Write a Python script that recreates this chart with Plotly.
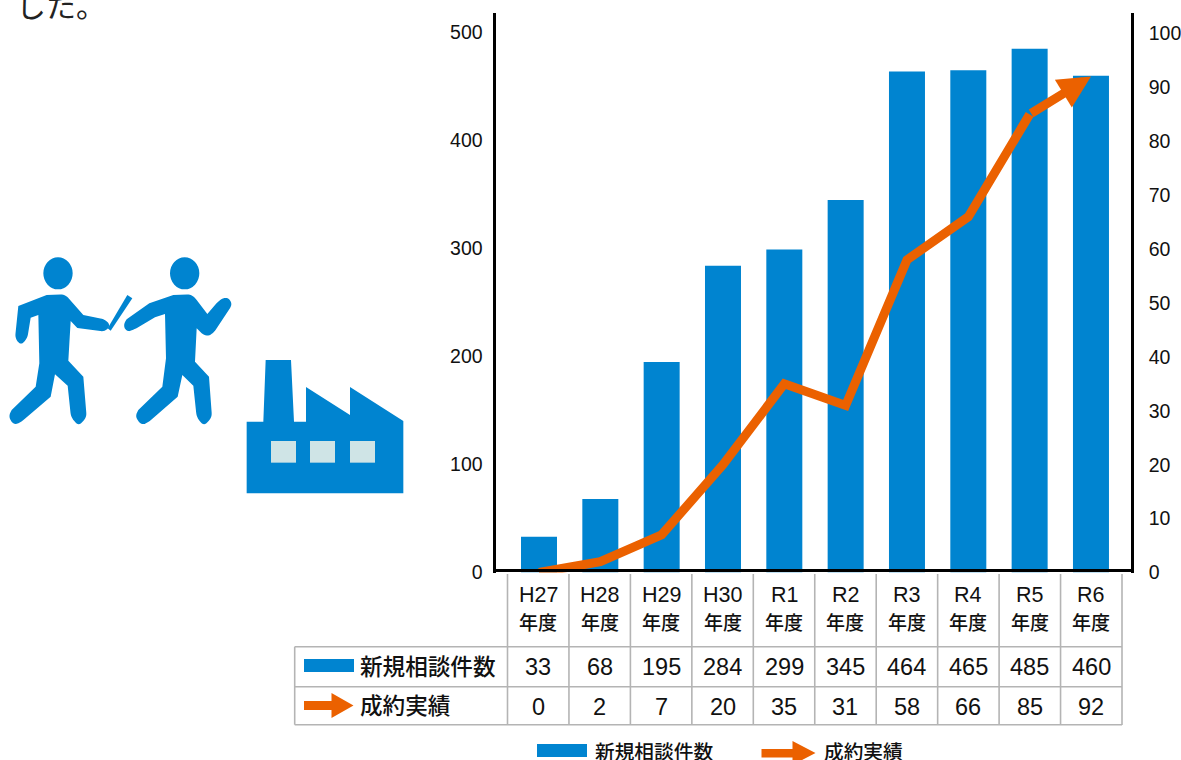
import plotly.graph_objects as go

W, H = 1181, 760
years = ["H27", "H28", "H29", "H30", "R1", "R2", "R3", "R4", "R5", "R6"]
consultations = [33, 68, 195, 284, 299, 345, 464, 465, 485, 460]
contracts = [0, 2, 7, 20, 35, 31, 58, 66, 85, 92]
left_ticks = [0, 100, 200, 300, 400, 500]
right_ticks = [0, 10, 20, 30, 40, 50, 60, 70, 80, 90, 100]
bar_label = "新規相談件数"
line_label = "成約実績"
year_suffix = "年度"
intro_text = "した。"

BLUE = "#0084d0"
ORANGE = "#eb6100"
GRID = "#b4b4b4"
INK = "#111111"
CJK = "Noto Sans CJK JP"
MIXED = "Liberation Sans, Noto Sans CJK JP"


def px(x):
    return x / W


def py(y):
    return 1 - y / H


def path_from(points, ox=0.0, oy=0.0, scale=1.0):
    return "M" + " L".join(f"{px(ox + a * scale):.5f},{py(oy + b * scale):.5f}" for a, b in points) + " Z"


def rounded(points, radius):
    """Closed outline with softly rounded corners, points in zoom pixels."""
    out = []
    n = len(points)
    for i, (cx, cy, r) in enumerate(points):
        if not r:
            out.append((cx, cy))
            continue
        x0, y0, _ = points[i - 1]
        x1, y1, _ = points[(i + 1) % n]
        for t in [k / 6 for k in range(7)]:
            ax = cx + (x0 - cx) * radius / max(1, ((x0 - cx) ** 2 + (y0 - cy) ** 2) ** 0.5)
            ay = cy + (y0 - cy) * radius / max(1, ((x0 - cx) ** 2 + (y0 - cy) ** 2) ** 0.5)
            bx = cx + (x1 - cx) * radius / max(1, ((x1 - cx) ** 2 + (y1 - cy) ** 2) ** 0.5)
            by = cy + (y1 - cy) * radius / max(1, ((x1 - cx) ** 2 + (y1 - cy) ** 2) ** 0.5)
            out.append(((1 - t) ** 2 * ax + 2 * t * (1 - t) * cx + t * t * bx,
                        (1 - t) ** 2 * ay + 2 * t * (1 - t) * cy + t * t * by))
    return out


fig = go.Figure()
fig.add_trace(go.Bar(x=years, y=consultations, name=bar_label, marker_color=BLUE,
                     marker_line_width=0, yaxis="y", showlegend=False))
fig.add_trace(go.Scatter(x=years[:-1], y=contracts[:-1], name=line_label, mode="lines",
                         line=dict(color=ORANGE, width=9), yaxis="y2", cliponaxis=False,
                         showlegend=False))

shapes = []
annotations = []


def text(x, y, s, size, anchor="center", xref="paper", family=MIXED, weight=None, color=INK):
    f = dict(size=size, family=family, color=color)
    if weight:
        f["weight"] = weight
    annotations.append(dict(x=x, y=py(y), xref=xref, yref="paper", text=s, showarrow=False,
                            xanchor=anchor, yanchor="middle", font=f, align=anchor,
                            borderpad=0, borderwidth=0))


def poly(points, color, ox=0.0, oy=0.0, scale=1.0):
    shapes.append(dict(type="path", xref="paper", yref="paper", path=path_from(points, ox, oy, scale),
                       fillcolor=color, line=dict(width=0), layer="above"))


def rect(x0, y0, x1, y1, color):
    shapes.append(dict(type="rect", xref="paper", yref="paper", x0=px(x0), x1=px(x1), y0=py(y1), y1=py(y0),
                       fillcolor=color, line=dict(width=0), layer="above"))


def seg(x0, y0, x1, y1):
    shapes.append(dict(type="line", xref="paper", yref="paper", x0=px(x0), x1=px(x1), y0=py(y0), y1=py(y1),
                       line=dict(color=GRID, width=1.6), layer="above"))


# last segment with its arrow head, read from the same series
annotations.append(dict(x=years[-1], y=contracts[-1], xref="x", yref="y2",
                        ax=years[-2], ay=contracts[-2], axref="x", ayref="y2",
                        text="", showarrow=True, arrowhead=2, arrowsize=0.72, arrowwidth=9,
                        arrowcolor=ORANGE, standoff=0))

# table grid
TL, TR, COL = 507.5, 1122.0, 61.45
for i in range(11):
    x = TL + COL * i
    seg(x, 574, x, 725)
for y in (646.7, 686.7, 724.7):
    seg(294.7, y, TR, y)
seg(294.7, 646.7, 294.7, 724.7)

# table text
for i, yr in enumerate(years):
    cx = px(TL + COL * (i + 0.5))
    text(cx, 595, yr, 21.5)
    text(cx, 621, year_suffix, 19, family=CJK, weight=500)
    text(cx, 666.5, str(consultations[i]), 23.5)
    text(cx, 706.5, str(contracts[i]), 23.5)

text(px(360), 665.5, bar_label, 22.6, anchor="left", family=CJK, weight=500)
text(px(360), 704, line_label, 22.6, anchor="left", family=CJK, weight=500)
text(px(594.5), 750.5, bar_label, 19.7, anchor="left", family=CJK, weight=500)
text(px(824), 750.5, line_label, 19.7, anchor="left", family=CJK, weight=500)

# table and bottom keys
rect(304, 659, 354, 672, BLUE)
rect(537, 744, 587, 757, BLUE)
key_arrow = [(0, 8), (27.5, 8), (27.5, 0), (49.5, 12.5), (27.5, 25), (27.5, 17), (0, 17)]
poly(key_arrow, ORANGE, 304, 693)
big_key = [(0, 8), (31, 8), (31, 0), (54, 12), (31, 24), (31, 16.5), (0, 16.5)]
poly(big_key, ORANGE, 761.5, 741)

# icons (zoom pixels of the reference crop)
OX, OY, S = 0, 240, 1 / 3
person_a = [(55, 198, 0), (140, 165, 0), (195, 163, 1), (207, 176, 0), (250, 225, 0), (315, 238, 1), (332, 256, 1),
            (315, 275, 1), (232, 264, 0), (212, 243, 0), (205, 362, 0), (250, 410, 0), (260, 532, 1), (236, 558, 1),
            (213, 532, 1), (203, 437, 0), (165, 403, 0), (152, 470, 0), (65, 545, 1), (42, 556, 1), (25, 530, 1),
            (35, 510, 0), (107, 440, 0), (118, 370, 0), (115, 225, 0), (92, 233, 0), (82, 295, 1), (63, 316, 1),
            (45, 295, 1)]
person_b = [(448, 190, 0), (520, 165, 0), (575, 163, 1), (590, 180, 0), (622, 222, 0), (658, 180, 1), (682, 170, 1),
            (698, 192, 1), (640, 280, 1), (620, 290, 1), (605, 280, 0), (590, 265, 0), (585, 365, 0), (627, 410, 0),
            (636, 532, 1), (612, 558, 1), (590, 532, 1), (580, 437, 0), (547, 405, 0), (533, 470, 0), (445, 547, 1),
            (425, 556, 1), (405, 530, 1), (415, 510, 0), (487, 440, 0), (498, 355, 0), (495, 222, 0), (465, 232, 0),
            (400, 270, 1), (380, 276, 1), (369, 255, 1), (380, 238, 0)]
baton = [(323, 265), (382, 165), (397, 175), (332, 272)]
factory = [(740, 545), (790, 545), (797, 360), (873, 360), (882, 545), (918, 545), (918, 441), (1050, 525), (1050, 441),
           (1210, 543), (1210, 760), (740, 760)]
poly(rounded(person_a, 14), BLUE, OX, OY, S)
poly(rounded(person_b, 14), BLUE, OX, OY, S)
poly(baton, BLUE, OX, OY, S)
poly(factory, BLUE, OX, OY, S)
for cx_, cy_ in [(174, 100), (554, 100)]:
    shapes.append(dict(type="circle", xref="paper", yref="paper",
                       x0=px((cx_ - 44) * S), x1=px((cx_ + 44) * S),
                       y0=py(OY + (cy_ + 48) * S), y1=py(OY + (cy_ - 48) * S),
                       fillcolor=BLUE, line=dict(width=0), layer="above"))
for x0_, x1_ in [(813, 888), (930, 1005), (1050, 1125)]:
    rect(x0_ * S, OY + 603 * S, x1_ * S, OY + 668 * S, "#cfe4e6")

# clipped body text at the top left
text(px(16), 4, intro_text, 30, anchor="left", family=CJK, color="#222222")

ZERO, TOP = 572.5, 13
CAT0, STEP = 539, 61.33
L_IN, R_IN = 495.5, 1130.8
axis_font = dict(size=19.5, family=MIXED, color=INK)
fig.update_layout(
    width=W, height=H, margin=dict(l=0, r=0, t=0, b=0), autosize=False,
    paper_bgcolor="white", plot_bgcolor="white", showlegend=False,
    bargap=0.413, shapes=shapes, annotations=annotations,
    xaxis=dict(domain=[px(L_IN), px(R_IN)], type="category", categoryorder="array", categoryarray=years,
               range=[(L_IN - CAT0) / STEP, (R_IN - CAT0) / STEP], showticklabels=False, ticks="", showgrid=False,
               zeroline=False, showline=True, linecolor="black", linewidth=3, layer="above traces", fixedrange=True,
               anchor="free", position=py(569.5)),
    yaxis=dict(domain=[py(ZERO), py(TOP)], range=[0, (ZERO - TOP) / 1.08], tickvals=left_ticks, ticks="",
               showgrid=False, zeroline=False, showline=True, linecolor="black", linewidth=3, tickfont=axis_font,
               ticklabelstandoff=6, layer="below traces", automargin=False, fixedrange=True),
    yaxis2=dict(domain=[py(ZERO), py(TOP)], range=[0, (ZERO - TOP) / 5.39], tickvals=right_ticks, overlaying="y",
                side="right", anchor="x", ticks="", showgrid=False, zeroline=False, showline=True, linecolor="black",
                linewidth=3, tickfont=axis_font, ticklabelstandoff=11, layer="below traces", automargin=False,
                fixedrange=True),
)

fig.write_html("out.html", config=dict(displayModeBar=False),
               post_script="document.body.style.margin='0';document.body.style.overflow='hidden';")
